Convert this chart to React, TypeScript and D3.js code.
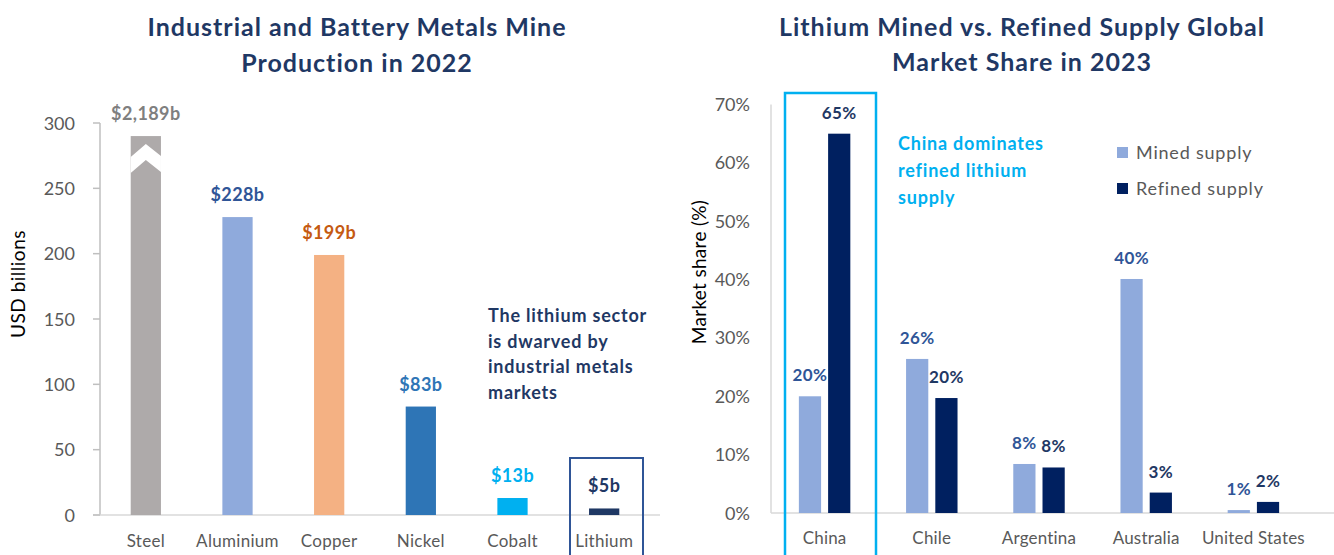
import React from "react";
import * as d3 from "d3";

const metals = ["Steel", "Aluminium", "Copper", "Nickel", "Cobalt", "Lithium"];
const metalValues = [2189, 228, 199, 83, 13, 5];
const metalLabels = ["$2,189b", "$228b", "$199b", "$83b", "$13b", "$5b"];
const metalColors = ["#AEAAAA", "#8FAADC", "#F4B183", "#2E75B6", "#00B0F0", "#1F3864"];
const metalLabelColors = ["#7F7F7F", "#2F5597", "#C55A11", "#2E75B6", "#00B0F0", "#1F3864"];
const leftTicks = [0, 50, 100, 150, 200, 250, 300];
const axisCap = 290;

const countries = ["China", "Chile", "Argentina", "Australia", "United States"];
const minedSupply = [20, 26.4, 8.4, 40.1, 0.5];
const refinedSupply = [65, 19.7, 7.8, 3.5, 1.9];
const minedLabels = ["20%", "26%", "8%", "40%", "1%"];
const refinedLabels = ["65%", "20%", "8%", "3%", "2%"];
const rightTicks = [0, 10, 20, 30, 40, 50, 60, 70];
const seriesNames = ["Mined supply", "Refined supply"];

const FONT = "Lato, 'Open Sans', sans-serif";
const NAVY = "#1F3864";
const GRAY = "#595959";

export default function App() {
  const xL = d3.scaleBand<string>().domain(metals).range([100, 650]).paddingInner(0.67).paddingOuter(0.335);
  const yL = d3.scaleLinear().domain([0, 300]).range([515, 123]);
  const xR = d3.scaleBand<string>().domain(countries).range([771, 1307]).paddingInner(0.52).paddingOuter(0.26);
  const xSub = d3.scaleBand<string>().domain(seriesNames).range([0, xR.bandwidth()]).paddingInner(0.24);
  const yR = d3.scaleLinear().domain([0, 70]).range([513, 104.5]);

  const steelTop = yL(Math.min(metalValues[0], axisCap));
  const sx0 = xL("Steel")!;
  const sx1 = sx0 + xL.bandwidth();
  const sxc = (sx0 + sx1) / 2;

  const titleStyle = { fontSize: 25, fontWeight: 700, letterSpacing: 1 } as const;

  return (
    <svg width={1334} height={555} style={{ position: "absolute", left: 0, top: 0, background: "#fff" }} fontFamily={FONT}>
      {/* Left title */}
      <text x={357} y={36} textAnchor="middle" {...titleStyle} fill={NAVY}>Industrial and Battery Metals Mine</text>
      <text x={357} y={72} textAnchor="middle" {...titleStyle} fill={NAVY}>Production in 2022</text>

      {/* Left axis */}
      <line x1={100} x2={100} y1={yL(300)} y2={yL(0)} stroke="#BFBFBF" strokeWidth={1.5} />
      <line x1={93} x2={660} y1={yL(0)} y2={yL(0)} stroke="#D9D9D9" strokeWidth={1.5} />
      {leftTicks.map((t) => (
        <g key={t}>
          <line x1={93} x2={100} y1={yL(t)} y2={yL(t)} stroke="#BFBFBF" strokeWidth={1.5} />
          <text x={75} y={yL(t) + 6.5} textAnchor="end" fontSize={18} fill={GRAY}>{t}</text>
        </g>
      ))}
      <text transform={`translate(25,284) rotate(-90)`} textAnchor="middle" fontSize={19} letterSpacing={0.5} fill="#000">USD billions</text>

      {metals.map((m, i) => {
        const v = Math.min(metalValues[i], axisCap);
        const x = xL(m)!;
        return (
          <g key={m}>
            <rect x={x} y={yL(v)} width={xL.bandwidth()} height={yL(0) - yL(v)} fill={metalColors[i]} />
            <text x={x + xL.bandwidth() / 2} y={yL(v) - 16} textAnchor="middle" fontSize={18} letterSpacing={0.4} fontWeight={700} fill={metalLabelColors[i]}>{metalLabels[i]}</text>
            <text x={x + xL.bandwidth() / 2} y={547} textAnchor="middle" fontSize={17} letterSpacing={0.3} fill={GRAY}>{m}</text>
          </g>
        );
      })}
      {/* axis break chevron on steel bar */}
      <polygon
        points={`${sx0},${steelTop + 21} ${sxc},${steelTop + 8} ${sx1},${steelTop + 20} ${sx1},${steelTop + 36} ${sxc},${steelTop + 24} ${sx0},${steelTop + 37}`}
        fill="#fff"
      />
      {/* Lithium highlight box */}
      <rect x={570} y={458} width={73} height={110} fill="none" stroke="#2F5597" strokeWidth={2} />
      {["The lithium sector", "is dwarved by", "industrial metals", "markets"].map((l, i) => (
        <text key={l} x={488} y={322 + i * 25.5} fontSize={18} letterSpacing={0.8} fontWeight={700} fill={NAVY}>{l}</text>
      ))}

      {/* Right title */}
      <text x={1022} y={36} textAnchor="middle" {...titleStyle} fill={NAVY}>Lithium Mined vs. Refined Supply Global</text>
      <text x={1022} y={71} textAnchor="middle" {...titleStyle} fill={NAVY}>Market Share in 2023</text>

      {/* Right axis */}
      <line x1={771} x2={771} y1={yR(70)} y2={yR(0)} stroke="#D9D9D9" strokeWidth={1.5} />
      <line x1={771} x2={1334} y1={yR(0)} y2={yR(0)} stroke="#D9D9D9" strokeWidth={1.5} />
      {rightTicks.map((t) => (
        <text key={t} x={750} y={yR(t) + 6.5} textAnchor="end" fontSize={18} fill={GRAY}>{t}%</text>
      ))}
      <text transform={`translate(706,272) rotate(-90)`} textAnchor="middle" fontSize={19} letterSpacing={0.3} fill="#000">Market share (%)</text>

      {countries.map((c, i) => {
        const x0 = xR(c)!;
        const xm = x0 + xSub("Mined supply")!;
        const xr = x0 + xSub("Refined supply")!;
        const w = xSub.bandwidth();
        return (
          <g key={c}>
            <rect x={xm} y={yR(minedSupply[i])} width={w} height={yR(0) - yR(minedSupply[i])} fill="#8FAADC" />
            <rect x={xr} y={yR(refinedSupply[i])} width={w} height={yR(0) - yR(refinedSupply[i])} fill="#002060" />
            <text x={xm + w / 2} y={yR(minedSupply[i]) - 15} textAnchor="middle" fontSize={17} letterSpacing={0.4} fontWeight={700} fill="#2F5597">{minedLabels[i]}</text>
            <text x={xr + w / 2} y={yR(refinedSupply[i]) - 15} textAnchor="middle" fontSize={17} letterSpacing={0.4} fontWeight={700} fill={NAVY}>{refinedLabels[i]}</text>
            <text x={x0 + xR.bandwidth() / 2} y={544} textAnchor="middle" fontSize={17} letterSpacing={0.2} fill={GRAY}>{c}</text>
          </g>
        );
      })}

      {/* China highlight box */}
      <rect x={785} y={93} width={91} height={480} fill="none" stroke="#00B0F0" strokeWidth={2.5} />
      {["China dominates", "refined lithium", "supply"].map((l, i) => (
        <text key={l} x={898} y={150 + i * 27} fontSize={18} letterSpacing={0.8} fontWeight={700} fill="#00B0F0">{l}</text>
      ))}

      {/* Legend */}
      {seriesNames.map((s, i) => (
        <g key={s}>
          <rect x={1117} y={147 + i * 36} width={11} height={11} fill={i === 0 ? "#8FAADC" : "#002060"} />
          <text x={1136} y={159 + i * 36} fontSize={18} letterSpacing={0.8} fill={GRAY}>{s}</text>
        </g>
      ))}
    </svg>
  );
}
